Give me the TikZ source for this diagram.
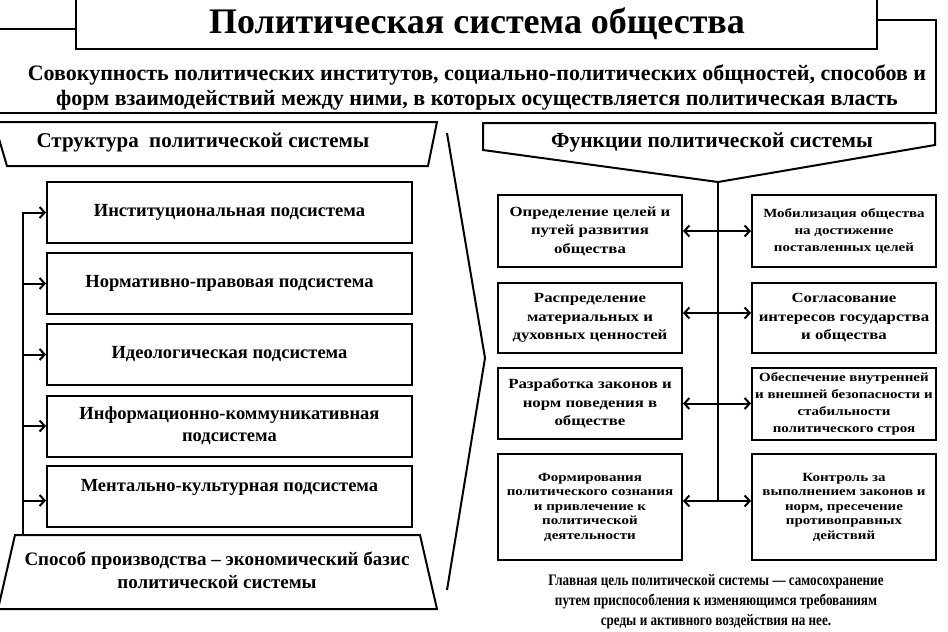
\documentclass[tikz,border=0pt]{standalone}
\usepackage{fontspec}
\setmainfont{Liberation Serif}
\newfontfamily\widefont[FakeStretch=1.2]{Liberation Serif}
\newfontfamily\narrowfont[FakeStretch=0.82]{Liberation Serif}
\usetikzlibrary{arrows.meta}
\begin{document}
\begin{tikzpicture}[x=1pt,y=-1pt,
  ln/.style={line width=2pt,line join=miter},
  sbox/.style={ln,draw,fill=white,minimum width=365pt,minimum height=61pt,align=center,font=\bfseries\fontsize{18.5}{22}\selectfont,inner sep=0pt},
  fbox/.style={ln,draw,fill=white,minimum width=184pt,align=center,inner sep=0pt},
  ftxt/.style={font=\widefont\bfseries\fontsize{14}{18.5}\selectfont},
  fsm/.style={font=\widefont\bfseries\fontsize{12.5}{17}\selectfont},
  txt/.style={inner sep=0pt,align=center},
  arr/.style={line width=2pt,-{Straight Barb[length=5pt,width=11pt,line width=2pt]}},
  darr/.style={line width=2pt,{Straight Barb[length=5pt,width=11pt,line width=2pt]}-{Straight Barb[length=5pt,width=11pt,line width=2pt]}}]
\useasboundingbox (0,0) rectangle (948,632);
% definition frame and title
\draw[ln] (-3,29) -- (76,29) (877,20) -- (936,20) -- (936,113) -- (-3,113);
\draw[ln,fill=white] (76,-5) rectangle (877,49);
\node[txt,font=\bfseries\fontsize{36}{40}\selectfont] (title) at (477,24) {Политическая система общества};
\node[txt,font=\bfseries\fontsize{22}{25}\selectfont] (def) at (477,87) {Совокупность политических институтов, социально-политических общностей, способов и\\ форм взаимодействий между ними, в которых осуществляется политическая власть};
% structure header
\draw[ln] (-6,122) -- (437,122) -- (428,166) -- (7,166) -- cycle;
\node[txt,font=\bfseries\fontsize{21}{23}\selectfont] (sth) at (203,143) {Структура\ \ политической системы};
% chevron
\draw[ln] (447,133) -- (485,358) -- (447,590);
% structure boxes
\node[sbox] (b1) at (229.5,212.5) {Институциональная подсистема};
\node[sbox] (b2) at (229.5,283.5) {Нормативно-правовая подсистема};
\node[sbox] (b3) at (229.5,354.5) {Идеологическая подсистема};
\node[sbox] (b4) at (229.5,426) {Информационно-коммуникативная\\ подсистема};
\node[sbox] (b5) at (229.5,496.5) {Ментально-культурная подсистема\\ \mbox{}};
% base
\draw[ln,fill=white] (15,535) -- (420,535) -- (437,609) -- (-2,609) -- cycle;
\node[txt,font=\bfseries\fontsize{19}{23}\selectfont] (base) at (217,570) {Способ производства – экономический базис\\ политической системы};
% bus
\coordinate (bus) at (23,535);
\draw[arr] (bus) |- (b1.west);
\draw[arr] (b2.west -| bus) -- (b2.west);
\draw[arr] (b3.west -| bus) -- (b3.west);
\draw[arr] (b4.west -| bus) -- (b4.west);
\draw[arr] ([yshift=-4pt]b5.west -| bus) -- ([yshift=-4pt]b5.west);
% functions header
\draw[ln] (483,123) -- (935,123) -- (935,145) -- (718,182) -- (483,150) -- cycle;
\node[txt,font=\bfseries\fontsize{21.5}{23}\selectfont] (fh) at (712,142) {Функции политической системы};
\coordinate (tip) at (718,182);
\coordinate (vend) at (718,501);
\draw[ln] (tip) -- (vend);
% function boxes
\node[fbox,minimum height=72pt,ftxt] (l1) at (590,231) {Определение целей и\\ путей развития\\ общества};
\node[fbox,minimum height=72pt,fsm] (r1) at (844,231) {Мобилизация общества\\ на достижение\\ поставленных целей};
\node[fbox,minimum height=70pt,ftxt] (l2) at (590,318) {Распределение\\ материальных и\\ духовных ценностей};
\node[fbox,minimum height=70pt,ftxt] (r2) at (844,318) {Согласование\\ интересов государства\\ и общества};
\node[fbox,minimum height=71pt,ftxt] (l3) at (590,403.5) {Разработка законов и\\ норм поведения в\\ обществе};
\node[fbox,minimum height=72pt,fsm] (r3) at (844,403.5) {Обеспечение внутренней\\ и внешней безопасности и\\ стабильности\\ политического строя};
\node[fbox,minimum height=106pt,font=\widefont\bfseries\fontsize{12.5}{14.5}\selectfont] (l4) at (590,507) {Формирования\\ политического сознания\\ и привлечение к\\ политической\\ деятельности};
\node[fbox,minimum height=106pt,font=\widefont\bfseries\fontsize{12.5}{14.5}\selectfont] (r4) at (844,507) {Контроль за\\ выполнением законов и\\ норм, пресечение\\ противоправных\\ действий};
\draw[darr] (l1.east) -- (r1.west);
\draw[darr] ([yshift=5pt]l2.east) -- ([yshift=5pt]r2.west);
\draw[darr] (l3.east) -- (r3.west);
\draw[darr] ([yshift=6pt]l4.east) -- ([yshift=6pt]r4.west);
% goal text
\node[txt,font=\narrowfont\bfseries\fontsize{16}{20}\selectfont] (goal) at (716,602) {Главная цель политической системы — самосохранение\\ путем приспособления к изменяющимся требованиям\\ среды и активного воздействия на нее.};
\end{tikzpicture}
\end{document}
